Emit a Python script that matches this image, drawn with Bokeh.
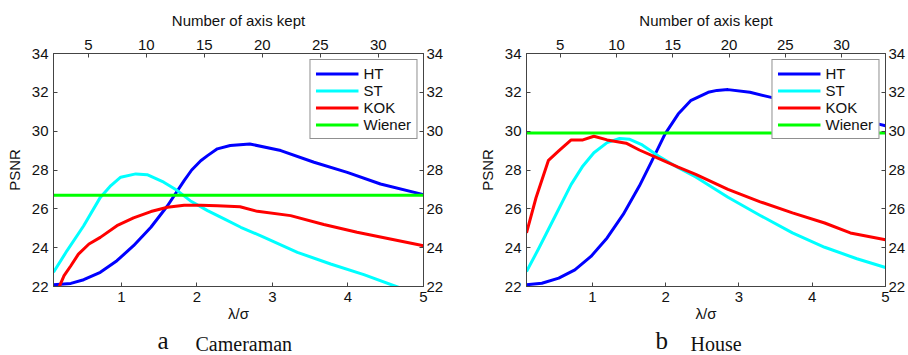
from bokeh.plotting import figure
from bokeh.models import LinearAxis, Range1d, FixedTicker
from bokeh.layouts import row, column
from bokeh.core.properties import value
from bokeh.embed import file_html
from bokeh.resources import INLINE

# ---------------- data ----------------
# panel a: Cameraman
ht_a_x = [0.1, 0.33, 0.5, 0.72, 0.94, 1.16, 1.39, 1.61, 1.83, 1.93, 2.05, 2.14, 2.27, 2.44, 2.70, 3.11, 3.55, 3.99, 4.43, 5.0]
ht_a_y = [22.09, 22.16, 22.35, 22.73, 23.33, 24.10, 25.05, 26.16, 27.45, 28.0, 28.48, 28.74, 29.09, 29.26, 29.34, 29.0, 28.40, 27.88, 27.28, 26.73]
st_a_x = [0.1, 0.28, 0.5, 0.72, 0.86, 0.99, 1.19, 1.34, 1.56, 1.74, 1.91, 2.14, 2.36, 2.58, 2.89, 3.33, 3.77, 4.21, 4.61, 5.0]
st_a_y = [22.73, 23.85, 25.13, 26.59, 27.20, 27.63, 27.80, 27.76, 27.37, 26.94, 26.42, 25.91, 25.48, 25.05, 24.53, 23.76, 23.16, 22.61, 22.04, 21.5]
kok_a_x = [0.1, 0.24, 0.33, 0.43, 0.57, 0.72, 0.94, 1.16, 1.39, 1.61, 1.83, 2.05, 2.27, 2.57, 2.80, 3.24, 3.68, 4.12, 4.56, 5.0]
kok_a_y = [21.3, 22.56, 23.07, 23.67, 24.19, 24.53, 25.13, 25.53, 25.86, 26.08, 26.18, 26.18, 26.16, 26.11, 25.87, 25.65, 25.19, 24.79, 24.45, 24.10]
wiener_a = 26.7

# panel b: House
ht_b_x = [0.1, 0.31, 0.54, 0.76, 0.98, 1.20, 1.42, 1.64, 1.81, 1.99, 2.17, 2.34, 2.58, 2.70, 2.85, 3.15, 3.44, 3.8, 4.2, 4.6, 4.88, 5.0]
ht_b_y = [22.09, 22.17, 22.43, 22.86, 23.55, 24.50, 25.71, 27.17, 28.46, 29.85, 30.88, 31.57, 32.0, 32.1, 32.14, 32.0, 31.74, 31.4, 31.0, 30.65, 30.39, 30.28]
st_b_x = [0.1, 0.27, 0.49, 0.71, 0.87, 1.02, 1.20, 1.37, 1.51, 1.68, 1.90, 2.17, 2.41, 2.85, 3.29, 3.73, 4.17, 4.61, 5.0]
st_b_y = [22.77, 23.98, 25.62, 27.26, 28.21, 28.89, 29.41, 29.62, 29.58, 29.29, 28.72, 28.12, 27.64, 26.60, 25.66, 24.76, 24.02, 23.43, 22.98]
kok_b_x = [0.1, 0.23, 0.40, 0.54, 0.71, 0.87, 1.02, 1.20, 1.46, 1.64, 1.90, 2.17, 2.41, 2.85, 3.29, 3.73, 4.17, 4.52, 5.0]
kok_b_y = [24.76, 26.57, 28.50, 28.98, 29.55, 29.55, 29.74, 29.55, 29.38, 29.03, 28.60, 28.15, 27.78, 27.0, 26.36, 25.79, 25.27, 24.76, 24.41]
wiener_b = 29.9

x_limits = [0.1, 5.0]
top_limits = [2.0, 33.9]
y_limits = [22, 34]
bottom_ticks = [1, 2, 3, 4, 5]
top_ticks = [5, 10, 15, 20, 25, 30]
y_ticks = [22, 24, 26, 28, 30, 32, 34]
series_names = ["HT", "ST", "KOK", "Wiener"]
series_colors = ["#0000ff", "#00ffff", "#ff0000", "#00ff00"]
caption_letters = ["a", "b"]
caption_names = ["Cameraman", "House"]

FONT = "Liberation Sans"
SERIF = "Liberation Serif"


def style_axis(ax, ticks):
    ax.ticker = FixedTicker(ticks=ticks)
    ax.axis_line_color = "#444444"
    ax.axis_line_width = 1
    ax.major_tick_line_color = "#444444"
    ax.major_tick_in = 4
    ax.major_tick_out = 0
    ax.minor_tick_line_color = None
    ax.major_label_text_font = FONT
    ax.major_label_text_font_size = "15px"
    ax.major_label_text_color = "#111111"
    ax.axis_label_text_font = FONT
    ax.axis_label_text_font_size = "15px"
    ax.axis_label_text_font_style = "normal"
    ax.axis_label_text_color = "#111111"


def make_panel(data, wiener, border_left, border_right):
    p = figure(width=454, height=325, title=None,
               x_range=Range1d(*x_limits), y_range=Range1d(*y_limits),
               output_backend="svg", toolbar_location=None,
               min_border_left=border_left, min_border_right=border_right,
               min_border_top=53, min_border_bottom=39)
    p.extra_x_ranges = {"top": Range1d(*top_limits)}
    p.xgrid.visible = False
    p.ygrid.visible = False
    p.outline_line_color = "#444444"
    p.background_fill_color = "white"
    p.border_fill_color = "white"

    xb = p.xaxis[0]
    style_axis(xb, bottom_ticks)
    xb.axis_label = "λ/σ"
    xb.major_label_standoff = 5
    xb.axis_label_standoff = 0
    yl = p.yaxis[0]
    style_axis(yl, y_ticks)
    yl.axis_label = "PSNR"
    yl.major_label_standoff = 5
    yl.axis_label_standoff = 6
    xt = LinearAxis(x_range_name="top", axis_label="Number of axis kept")
    style_axis(xt, top_ticks)
    xt.major_label_standoff = 4
    xt.axis_label_standoff = 8
    p.add_layout(xt, "above")
    yr = LinearAxis()
    style_axis(yr, y_ticks)
    yr.major_label_standoff = 3
    p.add_layout(yr, "right")

    for (xs, ys), nm, col in zip(data, series_names[:3], series_colors[:3]):
        p.line(xs, ys, line_color=col, line_width=3, line_join="round", legend_label=nm)
    p.line(x_limits, [wiener, wiener], line_color=series_colors[3], line_width=3,
           legend_label=series_names[3])

    lg = p.legend[0]
    lg.location = "top_right"
    lg.margin = 6
    lg.padding = 5
    lg.spacing = 0
    lg.glyph_width = 43
    lg.glyph_height = 17
    lg.label_height = 17
    lg.label_standoff = 5
    lg.label_text_font = FONT
    lg.label_text_font_size = "15px"
    lg.label_text_color = "#111111"
    lg.border_line_color = "#222222"
    lg.border_line_width = 1
    lg.background_fill_alpha = 1.0
    return p


def make_caption(letter, name, letter_x, name_x):
    c = figure(width=454, height=30, title=None,
               x_range=Range1d(0, 454), y_range=Range1d(0, 30),
               output_backend="svg", toolbar_location=None,
               x_axis_type=None, y_axis_type=None, min_border=0)
    c.outline_line_color = None
    c.xgrid.visible = False
    c.ygrid.visible = False
    c.background_fill_color = "white"
    c.border_fill_color = "white"
    c.text(x=[letter_x], y=[15], text=[letter], text_font=value(SERIF),
           text_font_size=value("25px"), text_baseline="alphabetic",
           text_align="left", text_color="#111111")
    c.text(x=[name_x], y=[12], text=[name], text_font=value(SERIF),
           text_font_size=value("20px"), text_baseline="alphabetic",
           text_align="left", text_color="#111111")
    return c


pa = make_panel([(ht_a_x, ht_a_y), (st_a_x, st_a_y), (kok_a_x, kok_a_y)], wiener_a, 53, 31)
pb = make_panel([(ht_b_x, ht_b_y), (st_b_x, st_b_y), (kok_b_x, kok_b_y)], wiener_b, 72, 12)
ca = make_caption(caption_letters[0], caption_names[0], 157, 195)
cb = make_caption(caption_letters[1], caption_names[1], 201, 236)

layout = column(row(pa, pb, spacing=0), row(ca, cb, spacing=0), spacing=0)
open("out.html", "w").write(file_html(layout, INLINE))
